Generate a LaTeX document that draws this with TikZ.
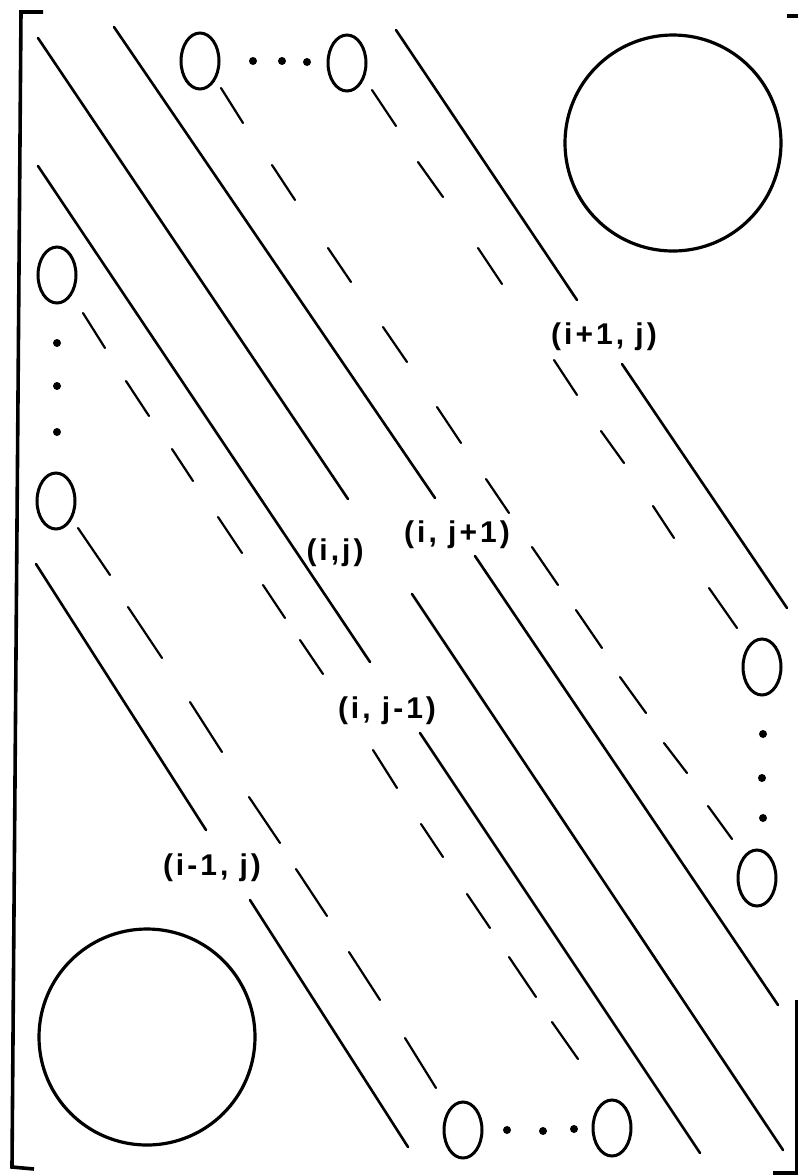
\documentclass[tikz,border=0pt]{standalone}
\usepackage{fontspec}
\usepackage{tikz}
\usetikzlibrary{shapes.geometric}
\newfontfamily\entryfont[LetterSpace=10]{Liberation Sans}

\tikzset{
	full/.style={line width=1.3pt, line cap=round},
	dashpart/.style={line width=1.1pt, line cap=round},
	oval/.style={draw, ellipse, line width=1.5pt, minimum width=19pt, minimum height=28pt, inner sep=0pt},
	entry/.style={font={\entryfont\bfseries\fontsize{15}{18}\selectfont}, inner sep=0pt}
}

\begin{document}
\begin{tikzpicture}[x=0.5pt, y=-0.5pt]
	\useasboundingbox (0,0) rectangle (798,1175);
	\draw[line width=1.8pt] (43,12) -- (21,12) -- (12,1167) -- (34,1169);
	\draw[line width=1.8pt] (787,16) -- (798,16);
	\draw[line width=1.8pt] (773,1173) -- (797,1173) -- (797,1000);

	\draw[line width=1.6pt] (673,143) circle [radius=54pt];
	\draw[line width=1.6pt] (147,1037) circle [radius=54pt];

	\node[oval] (T1) at (200,61) {};
	\node[oval] (T2) at (347,63) {};
	\node[oval] (L1) at (57,275) {};
	\node[oval] (L2) at (56,501) {};
	\node[oval] (R1) at (762,667) {};
	\node[oval] (R2) at (757,878) {};
	\node[oval] (B1) at (463,1130) {};
	\node[oval] (B2) at (612,1128) {};
	\foreach \x/\y in {253/61, 282/61, 307/62, 57/343, 57/386, 57/432, 763/734, 762/778, 763/818, 507/1130, 543/1131, 574/1129}
		\fill (\x,\y) circle (2pt);

	\draw[full] (36,564) -- (206,830);
	\draw[full] (250,900) -- (408,1147);
	\draw[full] (38,166) -- (370,662);
	\draw[full] (420,733) -- (700,1153);
	\draw[full] (38,38) -- (348,499);
	\draw[full] (412,594) -- (783,1150);
	\draw[full] (114,27) -- (435,498);
	\draw[full] (475,556) -- (778,1005);
	\draw[full] (396,30) -- (577,300);
	\draw[full] (622,364) -- (787,608);

	\foreach \xa/\ya/\xb/\yb in {78/528/110/575, 128/607/162/658, 190/702/222/752, 249/797/280/843, 296/869/327/916, 349/952/380/1000, 405/1038/436/1088}
		\draw[dashpart] (\xa,\ya) -- (\xb,\yb);
	\foreach \xa/\ya/\xb/\yb in {83/313/105/348, 126/381/149/416, 172/449/193/481, 218/517/242/553, 263/585/285/618, 300/640/323/674, 373/750/397/788, 421/824/443/857, 467/894/490/928, 509/957/536/997, 552/1022/578/1059}
		\draw[dashpart] (\xa,\ya) -- (\xb,\yb);
	\foreach \xa/\ya/\xb/\yb in {221/88/243/123, 272/165/295/200, 328/248/351/282, 383/327/407/362, 437/407/461/443, 486/479/509/513, 532/547/558/585, 576/610/602/648, 620/677/646/713, 664/743/687/773, 708/806/732/839}
		\draw[dashpart] (\xa,\ya) -- (\xb,\yb);
	\foreach \xa/\ya/\xb/\yb in {372/90/396/126, 418/162/443/197, 478/248/502/284, 554/360/577/395, 601/431/624/463, 653/506/674/538, 709/588/737/628}
		\draw[dashpart] (\xa,\ya) -- (\xb,\yb);

	\node[entry] (Eup) at (604,337) {(i+1, j)};
	\node[entry] (Eright) at (457,535) {(i, j+1)};
	\node[entry] (Ecentre) at (335,553) {(i,j)};
	\node[entry] (Eleft) at (387,711) {(i, j-1)};
	\node[entry] (Edown) at (212,868) {(i-1, j)};
\end{tikzpicture}
\end{document}
